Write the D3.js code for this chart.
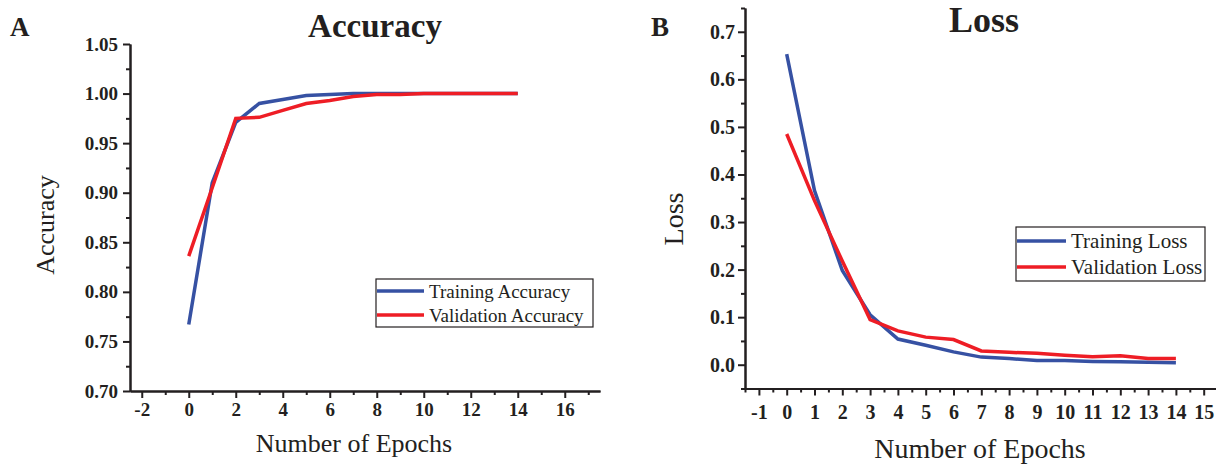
<!DOCTYPE html>
<html>
<head>
<meta charset="utf-8">
<script src="https://cdn.jsdelivr.net/npm/d3@7"></script>
<style>
  body { margin: 0; background: #fff; }
  svg { display: block; font-family: "Liberation Serif", "Times New Roman", serif; }
  .axis path, .axis line { stroke: #231f20; stroke-width: 2; }
</style>
</head>
<body>
<div id="chart"></div>
<script>
// data
const epochs = [0, 1, 2, 3, 4, 5, 6, 7, 8, 9, 10, 11, 12, 13, 14];
const trainAcc = [0.767, 0.910, 0.971, 0.990, 0.994, 0.998, 0.999, 1.0, 1.0, 1.0, 1.0, 1.0, 1.0, 1.0, 1.0];
const valAcc = [0.836, 0.905, 0.975, 0.976, 0.983, 0.990, 0.993, 0.997, 0.999, 0.999, 1.0, 1.0, 1.0, 1.0, 1.0];
const trainLoss = [0.653, 0.366, 0.198, 0.105, 0.054, 0.041, 0.027, 0.016, 0.013, 0.009, 0.009, 0.007, 0.006, 0.005, 0.004];
const valLoss = [0.485, 0.345, 0.218, 0.095, 0.071, 0.058, 0.053, 0.029, 0.026, 0.024, 0.020, 0.017, 0.019, 0.013, 0.013];
const accTicks = [0.70, 0.75, 0.80, 0.85, 0.90, 0.95, 1.00, 1.05];
const accXTicks = [-2, 0, 2, 4, 6, 8, 10, 12, 14, 16];
const lossTicks = [0.0, 0.1, 0.2, 0.3, 0.4, 0.5, 0.6, 0.7];
const lossXTicks = [-1, 0, 1, 2, 3, 4, 5, 6, 7, 8, 9, 10, 11, 12, 13, 14, 15];

const blue = '#3651a3', red = '#ee1d25';
const serif = '"Liberation Serif", "Times New Roman", serif';

const svg = d3.select('#chart').append('svg')
    .attr('width', 1216)
    .attr('height', 465);

function styleTicks(sel, size) {
    sel.attr('font-family', serif);
    sel.selectAll('text')
        .attr('font-family', serif)
        .style('font-family', serif)
        .style('font-weight', 'bold')
        .style('font-size', size + 'px')
        .attr('fill', '#231f20');
}

function panel(o) {
    const g = svg.append('g');
    const x = d3.scaleLinear().domain(o.xDomain).range(o.xRange);
    const y = d3.scaleLinear().domain(o.yDomain).range(o.yRange);

    // minor ticks
    g.append('g').attr('class', 'axis')
        .attr('transform', `translate(0,${o.yRange[0]})`)
        .call(d3.axisBottom(x).tickValues(o.xMinor).tickSize(4).tickSizeOuter(0).tickFormat(''));
    g.append('g').attr('class', 'axis')
        .attr('transform', `translate(${o.xRange[0]},0)`)
        .call(d3.axisLeft(y).tickValues(o.yMinor).tickSize(4).tickSizeOuter(0).tickFormat(''));
    // major ticks
    g.append('g').attr('class', 'axis')
        .attr('transform', `translate(0,${o.yRange[0]})`)
        .call(d3.axisBottom(x).tickValues(o.xTicks).tickSize(7).tickSizeOuter(0).tickPadding(o.xPad)
            .tickFormat(d => String(d)))
        .call(styleTicks, o.tickFont);
    g.append('g').attr('class', 'axis')
        .attr('transform', `translate(${o.xRange[0]},0)`)
        .call(d3.axisLeft(y).tickValues(o.yTicks).tickSize(7).tickSizeOuter(0).tickPadding(o.yPad)
            .tickFormat(d => d.toFixed(o.yDigits)))
        .call(styleTicks, o.tickFont);

    const line = d3.line().x((d, i) => x(epochs[i])).y(d => y(d));
    g.append('path').datum(o.train)
        .attr('d', line).attr('fill', 'none').attr('stroke', blue).attr('stroke-width', 3.5);
    g.append('path').datum(o.val)
        .attr('d', line).attr('fill', 'none').attr('stroke', red).attr('stroke-width', 3.5);

    // titles / labels
    g.append('text').text(o.letter)
        .attr('x', o.letterPos[0]).attr('y', o.letterPos[1])
        .style('font-size', '27px').style('font-weight', 'bold').attr('fill', '#231f20');
    g.append('text').text(o.title)
        .attr('x', o.titlePos[0]).attr('y', o.titlePos[1])
        .attr('text-anchor', 'middle')
        .style('font-size', o.titleFont + 'px').style('font-weight', 'bold').attr('fill', '#231f20');
    g.append('text').text('Number of Epochs')
        .attr('x', o.xLabelPos[0]).attr('y', o.xLabelPos[1])
        .attr('text-anchor', 'middle')
        .style('font-size', o.labelFont + 'px').attr('fill', '#231f20');
    g.append('text').text(o.yLabel)
        .attr('text-anchor', 'middle')
        .attr('transform', `translate(${o.yLabelPos[0]},${o.yLabelPos[1]}) rotate(-90)`)
        .style('font-size', o.labelFont + 'px').attr('fill', '#231f20');

    // legend
    const L = o.legend;
    g.append('rect')
        .attr('x', L.x).attr('y', L.y).attr('width', L.w).attr('height', L.h)
        .attr('fill', 'none').attr('stroke', '#231f20').attr('stroke-width', 1.2);
    L.items.forEach((name, i) => {
        const ly = L.y + L.first + i * L.gap;
        g.append('line')
            .attr('x1', L.x + 1).attr('x2', L.x + L.lineW)
            .attr('y1', ly).attr('y2', ly)
            .attr('stroke', i === 0 ? blue : red).attr('stroke-width', 3.5);
        g.append('text').text(name)
            .attr('x', L.x + L.lineW + 5).attr('y', ly + 7)
            .style('font-size', L.font + 'px').attr('fill', '#231f20');
    });
}

panel({
    xDomain: [-2.5, 17.5], xRange: [130, 600],
    yDomain: [0.70, 1.05], yRange: [391, 44],
    xTicks: accXTicks, xMinor: [-1, 1, 3, 5, 7, 9, 11, 13, 15, 17],
    yTicks: accTicks, yMinor: [0.725, 0.775, 0.825, 0.875, 0.925, 0.975, 1.025],
    yDigits: 2, xPad: 5, yPad: 5, tickFont: 19,
    train: trainAcc, val: valAcc,
    letter: 'A', letterPos: [10, 36],
    title: 'Accuracy', titlePos: [375, 37], titleFont: 33,
    yLabel: 'Accuracy', yLabelPos: [54, 225],
    xLabelPos: [354, 452], labelFont: 26,
    legend: { x: 376, y: 279, w: 217, h: 48, lineW: 48, first: 12, gap: 24, font: 19,
              items: ['Training Accuracy', 'Validation Accuracy'] }
});

panel({
    xDomain: [-1.5, 15.5], xRange: [745, 1217.6],
    yDomain: [-0.05, 0.75], yRange: [388.5, 8],
    xTicks: lossXTicks, xMinor: d3.range(-1.5, 15.6, 1),
    yTicks: lossTicks, yMinor: [-0.05, 0.05, 0.15, 0.25, 0.35, 0.45, 0.55, 0.65, 0.75],
    yDigits: 1, xPad: 9, yPad: 3, tickFont: 20,
    train: trainLoss, val: valLoss,
    letter: 'B', letterPos: [651, 36],
    title: 'Loss', titlePos: [984, 32], titleFont: 36,
    yLabel: 'Loss', yLabelPos: [683, 219],
    xLabelPos: [980, 458], labelFont: 28,
    legend: { x: 1016, y: 227, w: 189, h: 54, lineW: 50, first: 14, gap: 26, font: 21,
              items: ['Training Loss', 'Validation Loss'] }
});
</script>
</body>
</html>
